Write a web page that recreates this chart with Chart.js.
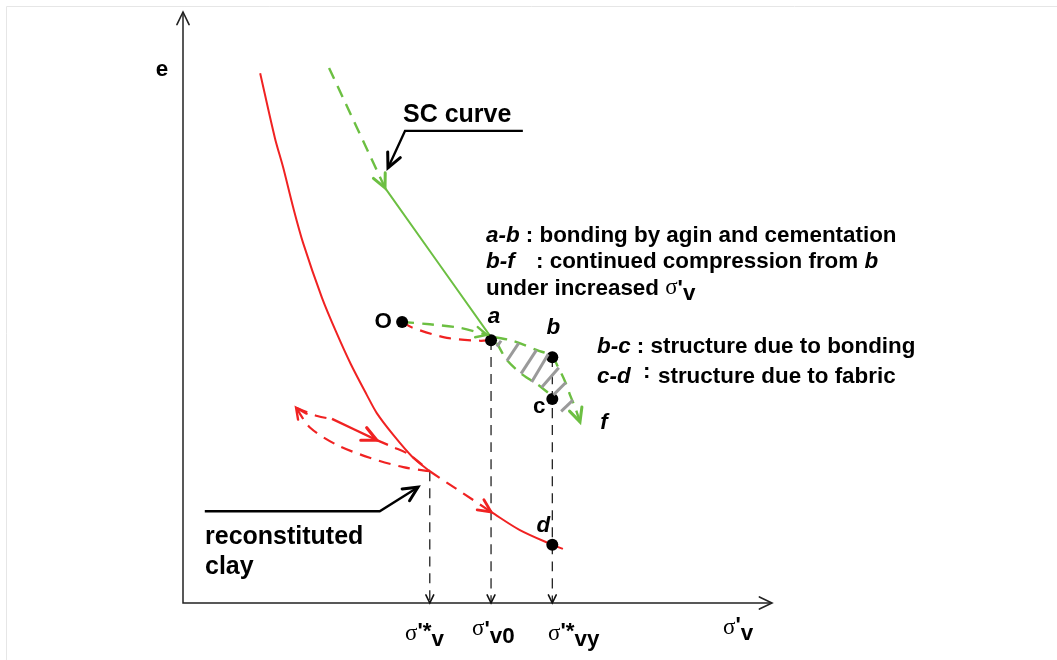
<!DOCTYPE html>
<html lang="en">
<head>
  <meta charset="UTF-8" />
  <title>SC curve vs reconstituted clay</title>
  <script src="https://cdn.jsdelivr.net/npm/chart.js"></script>
  <style>
    body { margin: 0; background: #fff; }
    canvas { display: block; }
  </style>
</head>
<body>
  <canvas id="scChart" width="1057" height="660"></canvas>
  <script>
    // schematic units: x 0..100 along sigma'v, y 0..100 along e
    const nclCurve = [[13.1,90.1],[15.6,79.1],[17.0,74.1],[18.7,67.3],[20.4,61.2],[23.6,51.9],[26.0,46.1],[28.5,40.6],[31.2,35.4],[32.9,32.3],[35.7,28.6],[39.0,24.8],[41.9,22.4]];
    const unloadPath = [[41.9,22.4],[37.4,23.1],[31.7,24.7],[26.1,26.9],[21.6,29.8],[19.2,33.2]];
    const reloadStart = [[19.2,33.2],[22.8,31.8],[25.3,31.3]];
    const reloadMid = [[25.3,31.3],[32.9,27.7]];
    const reloadEnd = [[32.9,27.7],[35.7,26.5],[38.5,25.2],[41.9,22.4]];
    const nclDash = [[41.9,22.4],[52.3,15.5]];
    const nclTail = [[52.3,15.5],[57.2,12.4],[62.7,9.9],[64.5,9.2]];
    const redOA = [[37.2,47.8],[39.0,46.8],[44.8,45.1],[50.4,44.6],[52.3,44.7]];
    const scDash = [[24.8,91.0],[34.3,70.6]];
    const scSolid = [[34.3,70.6],[53.0,44.2]];
    const greenOA = [[37.2,47.8],[41.9,47.4],[47.0,46.8],[51.6,45.6]];
    const greenUpper = [[53.0,45.2],[56.0,44.6],[60.1,43.0],[62.6,42.0],[63.7,40.1],[64.9,37.6],[65.7,35.4],[66.6,33.2],[67.4,30.8]];
    const greenLower = [[53.3,44.2],[55.0,41.3],[57.7,38.8],[60.3,37.1],[62.3,35.5]];
    const hatch = [
      [[54.0,44.6],[53.3,43.6]],
      [[57.0,44.2],[55.0,41.2]],
      [[60.0,43.0],[57.4,39.0]],
      [[62.0,42.3],[59.2,37.6]],
      [[63.8,40.0],[60.9,36.7]],
      [[65.0,37.5],[62.9,35.4]],
      [[66.2,34.5],[64.2,32.6]]
    ];
    const pointNames = ['O', 'a', 'b', 'c', 'd'];
    const pointXY = [[37.2,47.8],[52.3,44.7],[62.7,41.8],[62.7,34.7],[62.7,9.9]];
    const guideX = [41.9, 52.3, 62.7];
    const guideTop = [22.4, 44.7, 41.8];
    const scLeader = [[57.7,80.3],[37.7,80.3],[34.8,74.0]];
    const clayLeader = [[3.7,15.6],[33.4,15.6],[39.9,19.7]];

    const RED = '#f02222';
    const GREEN = '#6cbf42';
    const SANS = '"Liberation Sans", Arial, sans-serif';
    const SERIF = '"Liberation Serif", "Times New Roman", serif';

    const toXY = pts => pts.map(([x, y]) => ({ x, y }));
    const line = (pts, color, dash, width) => ({
      data: toXY(pts), showLine: true, borderColor: color, borderWidth: width,
      borderDash: dash, pointRadius: 0, tension: 0.3, fill: false
    });

    const datasets = [
      { data: toXY(pointXY), pointRadius: 6, pointBackgroundColor: '#000', pointBorderWidth: 0, showLine: false, order: -1 },
      line(nclCurve, RED, [], 2),
      line(unloadPath, RED, [12, 8], 2.2),
      line(reloadStart, RED, [12, 8], 2.2),
      line(reloadMid, RED, [], 2.4),
      line(reloadEnd, RED, [12, 8], 2.2),
      line(nclDash, RED, [12, 8], 2.2),
      line(nclTail, RED, [], 2),
      line(redOA, RED, [12, 8], 2.2),
      line(scDash, GREEN, [12, 8], 2.4),
      line(scSolid, GREEN, [], 2),
      line(greenOA, GREEN, [12, 8], 2.4),
      line(greenUpper, GREEN, [12, 8], 2.4),
      line(greenLower, GREEN, [12, 8], 2.4)
    ];
    guideX.forEach((gx, i) => {
      datasets.push(line([[gx, guideTop[i]], [gx, 0]], '#111', [10, 7], 1.2));
    });

    function arrow(ctx, tx, ty, fx, fy, size, color, width) {
      const ang = Math.atan2(ty - fy, tx - fx);
      ctx.save();
      ctx.strokeStyle = color;
      ctx.lineWidth = width;
      ctx.setLineDash([]);
      ctx.lineCap = 'round';
      ctx.beginPath();
      ctx.moveTo(tx + size * Math.cos(ang + Math.PI - 0.45), ty + size * Math.sin(ang + Math.PI - 0.45));
      ctx.lineTo(tx, ty);
      ctx.lineTo(tx + size * Math.cos(ang + Math.PI + 0.45), ty + size * Math.sin(ang + Math.PI + 0.45));
      ctx.stroke();
      ctx.restore();
    }

    // runs: [text, font, absolute x, dy]
    function runs(ctx, x, y, list) {
      let cx = x;
      list.forEach(([t, font, ax, dy]) => {
        if (ax !== undefined && ax !== null) cx = ax;
        ctx.font = font;
        ctx.fillText(t, cx, y + (dy || 0));
        cx += ctx.measureText(t).width;
      });
    }

    const drawPlugin = {
      id: 'sketch',
      beforeDraw(chart) {
        const ctx = chart.ctx;
        ctx.save();
        ctx.strokeStyle = '#e6e6e6';
        ctx.lineWidth = 1;
        ctx.beginPath();
        ctx.moveTo(6.5, 660);
        ctx.lineTo(6.5, 6.5);
        ctx.lineTo(1057, 6.5);
        ctx.stroke();
        ctx.restore();
      },
      afterDatasetsDraw(chart) {
        const ctx = chart.ctx;
        const xs = chart.scales.x, ys = chart.scales.y;
        const px = v => xs.getPixelForValue(v);
        const py = v => ys.getPixelForValue(v);
        const P = ([x, y]) => [px(x), py(y)];
        const area = chart.chartArea;

        // axes
        ctx.save();
        ctx.strokeStyle = '#222';
        ctx.lineWidth = 1.5;
        ctx.beginPath();
        ctx.moveTo(area.left, area.top - 3);
        ctx.lineTo(area.left, area.bottom);
        ctx.lineTo(area.right, area.bottom);
        ctx.stroke();
        ctx.restore();
        arrow(ctx, area.left, area.top - 3, area.left, area.top + 20, 14, '#222', 1.6);
        arrow(ctx, area.right, area.bottom, area.right - 20, area.bottom, 14, '#222', 1.6);

        // hatching between the two green paths
        ctx.save();
        ctx.strokeStyle = '#9a9a9a';
        ctx.lineWidth = 3;
        hatch.forEach(seg => {
          const [a, b] = seg.map(P);
          ctx.beginPath();
          ctx.moveTo(a[0], a[1]);
          ctx.lineTo(b[0], b[1]);
          ctx.stroke();
        });
        ctx.restore();

        // arrow heads at the ends of the curves
        const head = (pts, color, size, width) => {
          const n = pts.length;
          const t = P(pts[n - 1]), f = P(pts[n - 2]);
          arrow(ctx, t[0], t[1], f[0], f[1], size, color, width);
        };
        head(scDash, GREEN, 15, 3);
        head(greenOA, GREEN, 12, 2.4);
        head(greenUpper, GREEN, 15, 3);
        head(nclDash, RED, 14, 2.8);
        head(reloadMid, RED, 16, 3.2);
        head(unloadPath, RED, 12, 2.4);
        guideX.forEach(gx => head([[gx, 5], [gx, 0]], '#111', 9, 1.6));

        // leader lines
        [scLeader, clayLeader].forEach(ld => {
          const p = ld.map(P);
          ctx.save();
          ctx.strokeStyle = '#000';
          ctx.lineWidth = 2.4;
          ctx.beginPath();
          ctx.moveTo(p[0][0], p[0][1]);
          p.slice(1).forEach(q => ctx.lineTo(q[0], q[1]));
          ctx.stroke();
          ctx.restore();
          head(ld, '#000', 16, 3);
        });

        // texts
        ctx.save();
        ctx.fillStyle = '#000';
        ctx.textBaseline = 'middle';
        const B22 = 'bold 22.4px ' + SANS;
        const BI22 = 'italic bold 22.4px ' + SANS;
        const B25 = 'bold 25px ' + SANS;
        const SIG = '23px ' + SERIF;

        ctx.textAlign = 'center';
        ctx.font = B22;
        ctx.fillText('e', area.left - 21, 70);
        const lbl = [[-19, 0, B22], [3, -23, BI22], [1, -29, BI22], [-13, 8, B22], [-9, -19, BI22]];
        pointNames.forEach((nm, i) => {
          const p = P(pointXY[i]);
          ctx.font = lbl[i][2];
          ctx.fillText(nm, p[0] + lbl[i][0], p[1] + lbl[i][1]);
        });
        const fEnd = P(greenUpper[greenUpper.length - 1]);
        ctx.font = BI22;
        ctx.fillText('f', fEnd[0] + 24, fEnd[1] + 1);

        ctx.textAlign = 'left';
        ctx.font = B25;
        ctx.fillText('SC curve', 403, 115);
        ctx.fillText('reconstituted', 205, 537);
        ctx.fillText('clay', 205, 567);

        runs(ctx, 486, 236, [['a-b', BI22], [' : bonding by agin and cementation', B22]]);
        runs(ctx, 486, 262, [['b-f', BI22], [': continued compression from ', B22, 536], ['b', BI22]]);
        runs(ctx, 486, 289, [['under increased ', B22], ['\u03c3', SIG, null, -1], ["'", B22], ['v', B22, null, 5]]);
        runs(ctx, 597, 347, [['b-c', BI22], [' : structure due to bonding', B22]]);
        runs(ctx, 597, 377, [['c-d', BI22], [':', B22, 643, -5], ['structure due to fabric', B22, 658]]);

        // axis tick labels
        runs(ctx, 405, 634, [['\u03c3', SIG], ["'*", B22, null, -2], ['v', B22, null, 6]]);
        runs(ctx, 472, 632, [['\u03c3', SIG, null, -3], ["'", B22, null, -2], ['v0', B22, null, 5]]);
        runs(ctx, 548, 634, [['\u03c3', SIG], ["'*", B22, null, -2], ['vy', B22, null, 6]]);
        runs(ctx, 723, 628, [['\u03c3', SIG], ["'", B22, null, -2], ['v', B22, null, 6]]);
        ctx.restore();
      }
    };

    new Chart(document.getElementById('scChart'), {
      type: 'scatter',
      data: { datasets: datasets },
      options: {
        responsive: false,
        animation: false,
        layout: { padding: { left: 183, right: 285, top: 15, bottom: 57 } },
        scales: {
          x: { type: 'linear', min: 0, max: 100, display: false },
          y: { type: 'linear', min: 0, max: 100, display: false }
        },
        plugins: { legend: { display: false }, tooltip: { enabled: false } }
      },
      plugins: [drawPlugin]
    });
  </script>
</body>
</html>
